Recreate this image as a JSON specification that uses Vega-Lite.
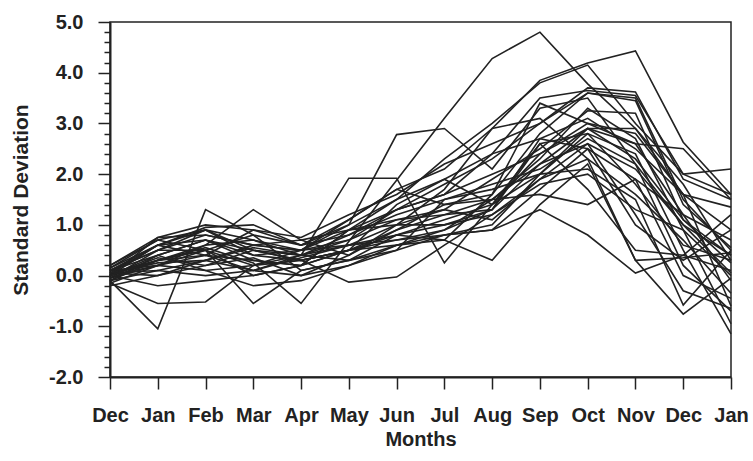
{
  "$schema": "https://vega.github.io/schema/vega-lite/v6.json",
  "width": 621,
  "height": 355,
  "autosize": {"type": "none"},
  "padding": {"left": 110, "top": 22, "right": 22, "bottom": 84},
  "background": "white",
  "config": {
    "view": {"stroke": "#222", "strokeWidth": 1.5},
    "axis": {
      "grid": false,
      "tickColor": "#222",
      "tickWidth": 1.5,
      "domainColor": "#222",
      "domainWidth": 2,
      "labelFont": "Liberation Sans",
      "labelFontWeight": "bold",
      "labelFontSize": 20,
      "labelColor": "#222",
      "titleFont": "Liberation Sans",
      "titleFontWeight": "bold",
      "titleFontSize": 20,
      "titleColor": "#222",
      "labelFlush": false,
      "labelOverlap": false
    }
  },
  "datasets": {
    "series": [
      {"m":0,"A":0.05,"B":0.1,"C":-0.05,"D":0,"E":0.1,"F":-0.1,"G":-0.15,"H":0,"I":-0.05,"J":0.15,"K":0,"L":0.05,"M":-0.1,"N":0.2,"O":0.1,"P":-0.2,"Q":0,"R":0.05,"S":-0.1,"T":0.1,"U":0,"V":0.15,"W":-0.05,"X":0.05,"Y":-0.15,"Z":0.1,"AA":0,"AB":0.2,"AC":-0.1,"AD":0.05,"AE":0},
      {"m":1,"A":0.3,"B":0.5,"C":0.2,"D":0.6,"E":0.4,"F":-1.05,"G":-0.55,"H":0.2,"I":0.3,"J":0.7,"K":0.75,"L":0.6,"M":0.1,"N":0.75,"O":0.5,"P":0,"Q":0.4,"R":0.1,"S":0.3,"T":0.2,"U":-0.2,"V":0.6,"W":0.5,"X":0,"Y":0.2,"Z":0.6,"AA":0.35,"AB":0.7,"AC":0.4,"AD":0.25,"AE":0.3},
      {"m":2,"A":0.55,"B":0.8,"C":0.4,"D":0.9,"E":0.7,"F":1.3,"G":-0.52,"H":0.6,"I":0.5,"J":0.9,"K":1.0,"L":0.95,"M":0.3,"N":0.8,"O":0.5,"P":0.2,"Q":0.7,"R":0,"S":0.6,"T":0.1,"U":-0.1,"V":0.4,"W":0.9,"X":0.3,"Y":0.5,"Z":0.7,"AA":0.2,"AB":0.5,"AC":0.1,"AD":0.3,"AE":0.4},
      {"m":3,"A":0.25,"B":0.6,"C":0.3,"D":0.7,"E":0.5,"F":0.8,"G":0.2,"H":1.3,"I":-0.55,"J":0.5,"K":0.9,"L":1.0,"M":0.1,"N":0.6,"O":0.2,"P":0.5,"Q":0.3,"R":0.1,"S":0.7,"T":-0.2,"U":0,"V":0.9,"W":0.4,"X":0.6,"Y":0.8,"Z":0.4,"AA":0.35,"AB":0,"AC":0.2,"AD":0.55,"AE":0.1},
      {"m":4,"A":-0.55,"B":0.5,"C":0.2,"D":0.5,"E":0.4,"F":0.6,"G":0.3,"H":0.7,"I":0.1,"J":0.3,"K":0.75,"L":0.6,"M":0,"N":0.5,"O":0.4,"P":0.3,"Q":0.2,"R":0.4,"S":0.4,"T":-0.1,"U":0.2,"V":0.6,"W":0.5,"X":0.7,"Y":0.1,"Z":0.3,"AA":0,"AB":0.2,"AC":0.5,"AD":0.4,"AE":0.35},
      {"m":5,"A":0.67,"B":1.1,"C":0.9,"D":1.0,"E":1.92,"F":0.8,"G":0.5,"H":0.9,"I":0.3,"J":-0.13,"K":1.2,"L":1.0,"M":0.4,"N":0.7,"O":0.6,"P":0.5,"Q":0.5,"R":0.8,"S":0.3,"T":0.2,"U":0.5,"V":1.1,"W":0.9,"X":0.4,"Y":0.3,"Z":0.5,"AA":0.2,"AB":0.9,"AC":0.6,"AD":0.7,"AE":0.6},
      {"m":6,"A":1.88,"B":1.7,"C":1.5,"D":2.78,"E":1.92,"F":1.3,"G":0.9,"H":1.3,"I":0.8,"J":-0.03,"K":1.6,"L":1.5,"M":0.9,"N":1.1,"O":0.7,"P":0.7,"Q":0.8,"R":1.2,"S":0.6,"T":0.5,"U":0.6,"V":1.7,"W":1.0,"X":1.0,"Y":0.5,"Z":1.4,"AA":0.6,"AB":1.1,"AC":0.8,"AD":1.3,"AE":1.0},
      {"m":7,"A":3.1,"B":2.1,"C":2.3,"D":2.9,"E":0.25,"F":1.8,"G":1.2,"H":1.6,"I":1.0,"J":0.6,"K":2.2,"L":1.9,"M":1.4,"N":1.3,"O":0.8,"P":0.9,"Q":1.1,"R":1.5,"S":0.9,"T":0.8,"U":0.7,"V":1.4,"W":1.7,"X":1.3,"Y":1.5,"Z":1.9,"AA":0.8,"AB":1.2,"AC":0.7,"AD":1.6,"AE":1.0},
      {"m":8,"A":4.28,"B":2.9,"C":3.0,"D":2.1,"E":1.4,"F":2.3,"G":1.5,"H":2.4,"I":1.3,"J":1.2,"K":2.6,"L":2.4,"M":1.6,"N":1.9,"O":1.0,"P":1.5,"Q":1.4,"R":1.8,"S":1.3,"T":0.9,"U":0.3,"V":1.5,"W":2.9,"X":1.1,"Y":1.7,"Z":1.4,"AA":0.9,"AB":1.3,"AC":1.6,"AD":2.0,"AE":1.2},
      {"m":9,"A":4.8,"B":3.85,"C":3.8,"D":3.3,"E":2.6,"F":3.0,"G":2.2,"H":2.7,"I":2.2,"J":1.9,"K":3.0,"L":3.5,"M":2.8,"N":2.5,"O":2.0,"P":2.3,"Q":2.0,"R":2.1,"S":2.7,"T":1.3,"U":1.4,"V":1.6,"W":3.1,"X":1.9,"Y":2.0,"Z":2.4,"AA":1.7,"AB":2.6,"AC":3.4,"AD":2.4,"AE":1.8},
      {"m":10,"A":3.78,"B":4.19,"C":4.15,"D":3.5,"E":2.8,"F":3.6,"G":2.9,"H":3.1,"I":2.6,"J":2.3,"K":3.7,"L":3.65,"M":3.6,"N":3.25,"O":2.9,"P":3.3,"Q":2.8,"R":2.7,"S":2.5,"T":0.8,"U":2.2,"V":1.4,"W":2.3,"X":2.6,"Y":2.1,"Z":3.0,"AA":2.5,"AB":1.7,"AC":3.0,"AD":2.9,"AE":2.0},
      {"m":11,"A":2.9,"B":4.43,"C":3.0,"D":2.2,"E":1.8,"F":3.5,"G":2.6,"H":2.5,"I":1.2,"J":0.3,"K":3.62,"L":3.55,"M":3.45,"N":3.2,"O":2.9,"P":2.7,"Q":2.4,"R":2.2,"S":1.9,"T":0.05,"U":0.3,"V":1.9,"W":1.6,"X":2.1,"Y":1.5,"Z":2.8,"AA":1.0,"AB":0.5,"AC":2.6,"AD":2.3,"AE":1.3},
      {"m":12,"A":1.6,"B":2.63,"C":2.0,"D":1.0,"E":0.6,"F":1.5,"G":1.2,"H":1.6,"I":-0.3,"J":0.35,"K":1.9,"L":2.0,"M":1.4,"N":1.1,"O":1.8,"P":0.9,"Q":0.5,"R":0.2,"S":0,"T":0.4,"U":-0.76,"V":1.2,"W":0.7,"X":1.0,"Y":-0.58,"Z":1.6,"AA":0.3,"AB":0.4,"AC":2.5,"AD":1.1,"AE":0.9},
      {"m":13,"A":0.9,"B":1.6,"C":2.1,"D":0.4,"E":0.3,"F":0.5,"G":-0.1,"H":1.35,"I":-0.65,"J":0.45,"K":1.5,"L":1.6,"M":0.55,"N":0.25,"O":0.3,"P":-0.95,"Q":-1.15,"R":-0.7,"S":-0.45,"T":0.1,"U":-0.05,"V":0.7,"W":-0.35,"X":0.05,"Y":0.5,"Z":-0.6,"AA":0.9,"AB":1.2,"AC":1.5,"AD":0.4,"AE":0}
    ]
  },
  "layer": [
    {
      "data": {"name": "series"},
      "transform": [
        {"fold": ["A","B","C","D","E","F","G","H","I","J","K","L","M","N","O","P","Q","R","S","T","U","V","W","X","Y","Z","AA","AB","AC","AD","AE"], "as": ["s", "v"]}
      ],
      "mark": {"type": "line", "color": "#222", "strokeWidth": 1.6},
      "encoding": {
        "x": {
          "field": "m", "type": "quantitative",
          "scale": {"domain": [0, 13], "nice": false, "zero": false},
          "axis": {
            "values": [0,1,2,3,4,5,6,7,8,9,10,11,12,13],
            "labelExpr": "['Dec','Jan','Feb','Mar','Apr','May','Jun','Jul','Aug','Sep','Oct','Nov','Dec','Jan'][datum.value]",
            "tickSize": 12,
            "labelPadding": 16,
            "title": "Months",
            "titlePadding": 4
          }
        },
        "y": {
          "field": "v", "type": "quantitative",
          "scale": {"domain": [-2, 5], "nice": false, "zero": false},
          "axis": {
            "values": [-2,-1,0,1,2,3,4,5],
            "labelExpr": "replace(format(datum.value, '.1f'), '\u2212', '-')",
            "tickSize": 12,
            "labelPadding": 15,
            "title": "Standard Deviation",
            "titleFontSize": 21,
            "titlePadding": 17
          }
        },
        "detail": {"field": "s"}
      }
    },
    {
      "mark": {"type": "rule", "color": "#222", "strokeWidth": 1.5},
      "encoding": {
        "y": {
          "datum": 0, "type": "quantitative",
          "axis": {
            "orient": "left",
            "values": [-1.8,-1.6,-1.4,-1.2,-0.8,-0.6,-0.4,-0.2,0.2,0.4,0.6,0.8,1.2,1.4,1.6,1.8,2.2,2.4,2.6,2.8,3.2,3.4,3.6,3.8,4.2,4.4,4.6,4.8],
            "tickSize": 6,
            "labels": false,
            "domain": false,
            "title": null
          }
        }
      }
    }
  ],
  "resolve": {"axis": {"y": "independent"}}
}
